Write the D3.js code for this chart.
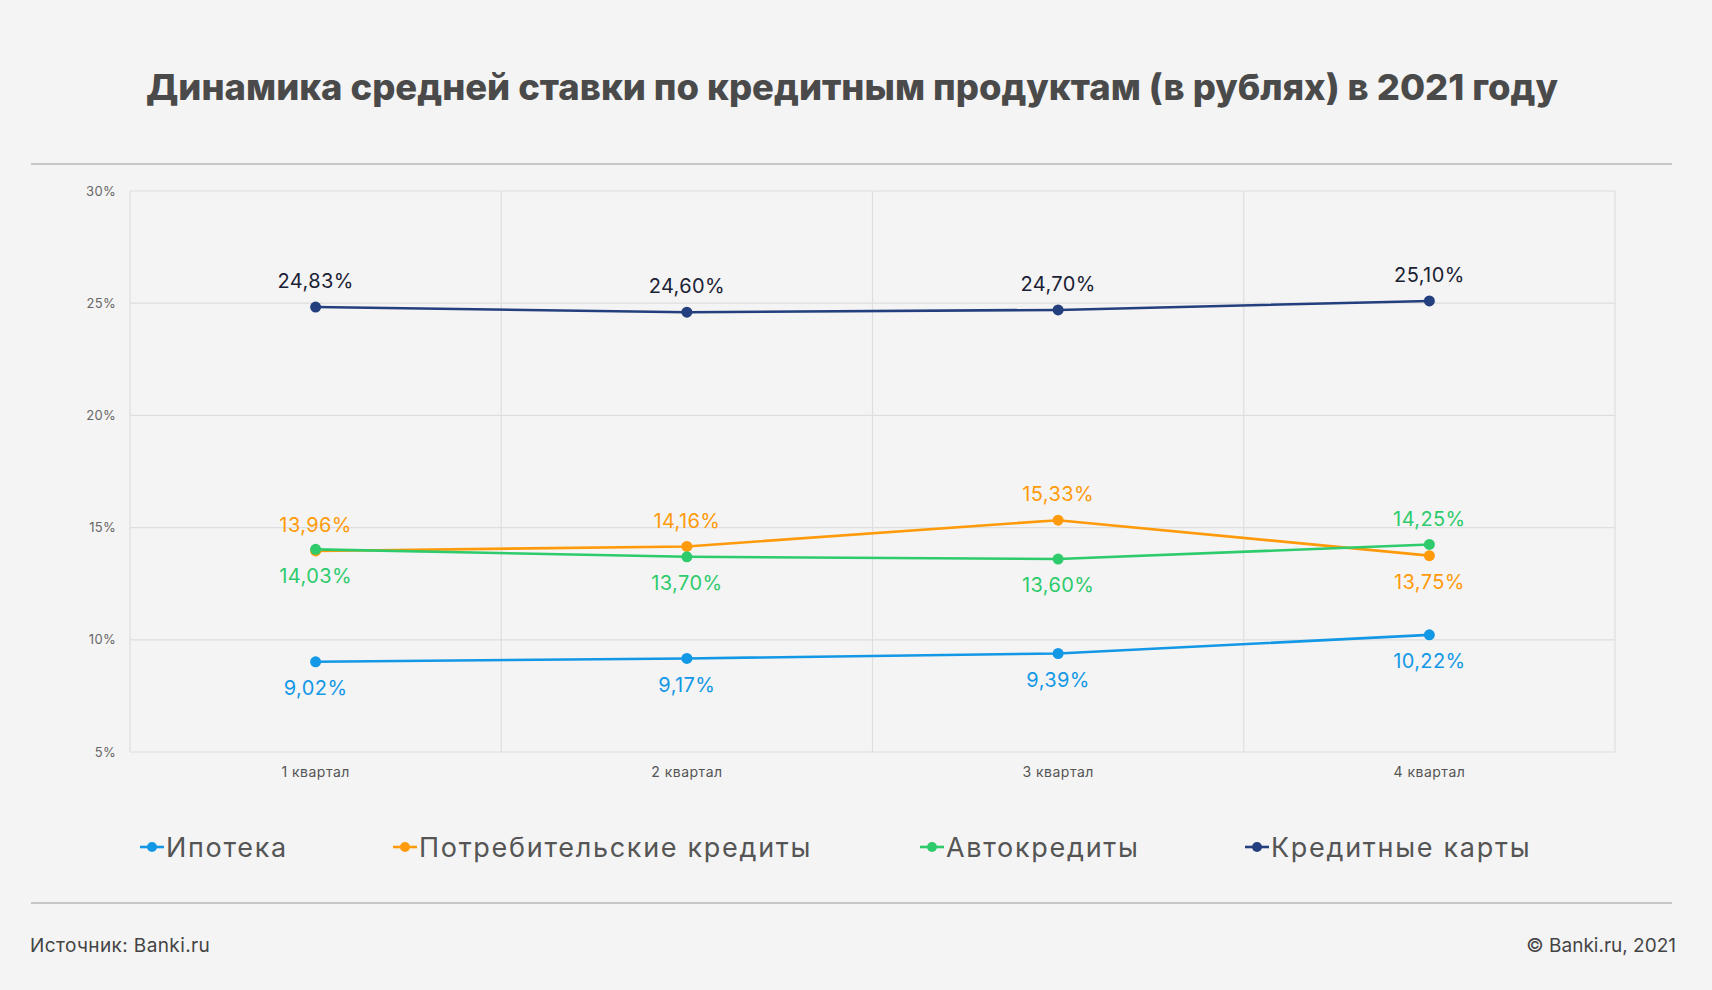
<!DOCTYPE html>
<html><head><meta charset="utf-8">
<script src="https://cdn.jsdelivr.net/npm/d3@7"></script>
<style>
html,body{margin:0;padding:0;background:#f4f4f4;}
svg{display:block;}
</style></head>
<body>
<svg id="chart" width="1712" height="990"></svg>
<script>
const categories = ["1 квартал", "2 квартал", "3 квартал", "4 квартал"];
const yTicks = [5, 10, 15, 20, 25, 30];
const seriesNames = ["Ипотека", "Потребительские кредиты", "Автокредиты", "Кредитные карты"];
const ipoteka = [9.02, 9.17, 9.39, 10.22];
const potreb = [13.96, 14.16, 15.33, 13.75];
const avto = [14.03, 13.70, 13.60, 14.25];
const karty = [24.83, 24.60, 24.70, 25.10];
// label placement: -1 above, +1 below
const ipotekaPos = [1, 1, 1, 1];
const potrebPos = [-1, -1, -1, 1];
const avtoPos = [1, 1, 1, -1];
const kartyPos = [-1, -1, -1, -1];
const colors = ["#1398e6", "#ff9a0a", "#2ecb6c", "#243f7e"];
const labelColors = ["#1398e6", "#ff9a0a", "#2ecb6c", "#1b2235"];

const series = [
  {name: seriesNames[0], values: ipoteka, pos: ipotekaPos, color: colors[0], lc: labelColors[0]},
  {name: seriesNames[1], values: potreb, pos: potrebPos, color: colors[1], lc: labelColors[1]},
  {name: seriesNames[2], values: avto, pos: avtoPos, color: colors[2], lc: labelColors[2]},
  {name: seriesNames[3], values: karty, pos: kartyPos, color: colors[3], lc: labelColors[3]}
];

const svg = d3.select("#chart");
const W = 1712, H = 990;
const font = "Inter, 'Noto Sans', sans-serif";

svg.append("rect").attr("width", W).attr("height", H).attr("fill", "#f4f4f4");

// Title
svg.append("text").attr("x", 852).attr("y", 100)
  .attr("text-anchor", "middle").attr("font-family", font)
  .attr("font-weight", 800).attr("font-size", 36).attr("fill", "#4a4a4a")
  .attr("textLength", 1412).attr("lengthAdjust", "spacingAndGlyphs")
  .text("Динамика средней ставки по кредитным продуктам (в рублях) в 2021 году");

// rules
svg.append("line").attr("x1", 31).attr("x2", 1672).attr("y1", 164).attr("y2", 164)
  .attr("stroke", "#c6c6c6").attr("stroke-width", 2);
svg.append("line").attr("x1", 31).attr("x2", 1672).attr("y1", 903).attr("y2", 903)
  .attr("stroke", "#c6c6c6").attr("stroke-width", 2);

const L = 130, R = 1615, T = 191, B = 752;
const x = d3.scaleBand().domain(categories).range([L, R]);
const y = d3.scaleLinear().domain([5, 30]).range([B, T]);

const g = svg.append("g");
// horizontal grid
g.selectAll(".hg").data(yTicks).join("line")
  .attr("x1", L).attr("x2", R).attr("y1", d => y(d)).attr("y2", d => y(d))
  .attr("stroke", "#dedede").attr("stroke-width", 1.2);
// vertical grid at band boundaries
const vb = categories.map(c => x(c)).concat([x(categories[categories.length - 1]) + x.bandwidth()]);
g.selectAll(".vg").data(vb).join("line")
  .attr("x1", d => d).attr("x2", d => d).attr("y1", T).attr("y2", B)
  .attr("stroke", "#dedede").attr("stroke-width", 1.2);

// y axis
const yAxis = d3.axisLeft(y).tickValues(yTicks).tickSize(0).tickPadding(14).tickFormat(d => d + "%");
const ya = svg.append("g").attr("transform", `translate(${L},0)`).call(yAxis);
ya.select(".domain").remove();
ya.selectAll("text").attr("font-family", font).attr("font-size", 13).attr("letter-spacing", 0.3).attr("fill", "#666");

// x axis
const xAxis = d3.axisBottom(x).tickSize(0).tickPadding(15);
const xa = svg.append("g").attr("transform", `translate(0,${B})`).call(xAxis);
xa.select(".domain").remove();
xa.selectAll("text").attr("font-family", font).attr("font-size", 14).attr("letter-spacing", 0.5).attr("fill", "#555");

const cx = c => x(c) + x.bandwidth() / 2;
const line = d3.line().x((d, i) => cx(categories[i])).y(d => y(d));
const fmt = v => v.toFixed(2).replace(".", ",") + "%";

series.forEach(s => {
  svg.append("path").attr("d", line(s.values)).attr("fill", "none")
    .attr("stroke", s.color).attr("stroke-width", 2.6);
});
series.forEach(s => {
  svg.selectAll(null).data(s.values).join("circle")
    .attr("cx", (d, i) => cx(categories[i])).attr("cy", d => y(d)).attr("r", 5.5)
    .attr("fill", s.color);
  svg.selectAll(null).data(s.values).join("text")
    .attr("x", (d, i) => cx(categories[i]))
    .attr("y", (d, i) => y(d) + s.pos[i] * 26)
    .attr("dy", "0.36em")
    .attr("text-anchor", "middle").attr("font-family", font).attr("font-size", 20)
    .attr("letter-spacing", 0.4)
    .attr("fill", s.lc).text(d => fmt(d));
});

// legend
const legX = [140, 393, 920, 1245];
series.forEach((s, i) => {
  const lg = svg.append("g").attr("transform", `translate(${legX[i]},847)`);
  lg.append("line").attr("x1", 0).attr("x2", 24).attr("y1", 0).attr("y2", 0)
    .attr("stroke", s.color).attr("stroke-width", 2.6);
  lg.append("circle").attr("cx", 12).attr("cy", 0).attr("r", 5).attr("fill", s.color);
  lg.append("text").attr("x", 26).attr("y", 0).attr("dy", "0.36em")
    .attr("font-family", font).attr("font-size", 27).attr("letter-spacing", 1.7).attr("fill", "#555")
    .text(s.name);
});

// footer
svg.append("text").attr("x", 30).attr("y", 945).attr("dy", "0.36em")
  .attr("font-family", font).attr("font-size", 19).attr("letter-spacing", 0.4).attr("fill", "#444").text("Источник: Banki.ru");
svg.append("text").attr("x", 1676).attr("y", 945).attr("dy", "0.36em").attr("text-anchor", "end")
  .attr("font-family", font).attr("font-size", 19).attr("fill", "#444").text("© Banki.ru, 2021");
</script>
</body></html>
